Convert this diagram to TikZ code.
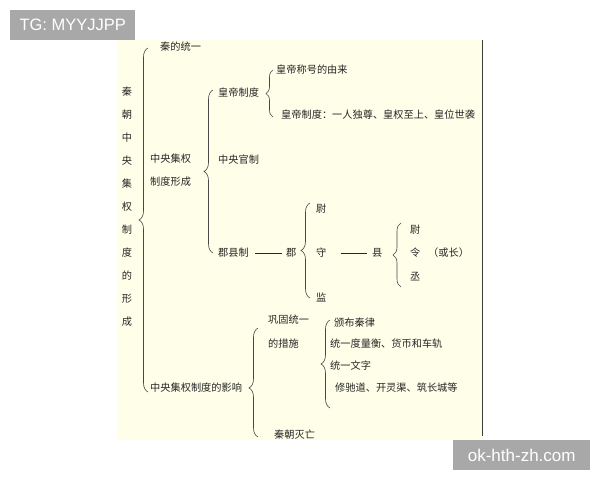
\documentclass[tikz,border=0pt]{standalone}
\usepackage{fontspec}
\newfontfamily\cjk{Noto Sans CJK SC}
\newfontfamily\wmfont{Liberation Sans}
\usetikzlibrary{decorations.pathreplacing}
\definecolor{paper}{RGB}{254,254,233}
\definecolor{ink}{RGB}{38,38,38}
\definecolor{tagbg}{RGB}{168,168,168}
\tikzstyle{item} = [anchor=west, inner sep=0pt, text=ink, font=\cjk\fontsize{10.2}{12}\selectfont]
\tikzstyle{twoline} = [item, align=left, font=\cjk\fontsize{10.2}{23.5}\selectfont]
\tikzstyle{brace} = [decorate, decoration={brace, amplitude=9pt}, draw=ink!85, line width=0.6pt]
\tikzstyle{link} = [draw=ink, line width=0.7pt]
\tikzstyle{tag} = [fill=tagbg, text=white, inner sep=0pt, minimum height=30pt, anchor=north west, align=center]

\begin{document}
\begin{tikzpicture}[x=1pt, y=-1pt, node distance = 44.5pt]
  \useasboundingbox (0,0) rectangle (600,480);
  \fill [paper] (118,40) rectangle (482,440);
  \draw [ink!90, line width=1pt] (482,40) -- (482,436);

  \node (title) [item, anchor=center, align=center, font=\cjk\fontsize{10.2}{23}\selectfont] at (127,207) {秦\\朝\\中\\央\\集\\权\\制\\度\\的\\形\\成};
  \node (tongyi) [item] at (160,47) {秦的统一};
  \node (xingcheng) [twoline] at (150,170) {中央集权\\制度形成};
  \node (yingxiang) [item] at (150,388) {中央集权制度的影响};

  \node (huangdi) [item] at (218,93) {皇帝制度};
  \node (guanzhi) [item] at (218,160) {中央官制};
  \node (junxian) [item] at (218,253) {郡县制};
  \node (jun) [item] at (286,253) {郡};

  \node (chenghao) [item] at (276,70) {皇帝称号的由来};
  \node (tedian) [item] at (281,115) {皇帝制度：一人独尊、皇权至上、皇位世袭};

  \node (shou) [item] at (316,253) {守};
  \node (wei) [item, above of = shou] {尉};
  \node (jian) [item, below of = shou] {监};
  \node (xian) [item] at (372,253) {县};
  \node (ling) [item] at (410,253) {令};
  \node (xwei) [item, above of = ling, node distance = 23.5pt] {尉};
  \node (cheng) [item, below of = ling, node distance = 23.5pt] {丞};
  \node (huozhang) [item] at (428,253) {（或长）};

  \node (cuoshi) [twoline] at (268,331.5) {巩固统一\\的措施};
  \node (qinlv) [item] at (334,323) {颁布秦律};
  \node (duliang) [item] at (330,344) {统一度量衡、货币和车轨};
  \node (wenzi) [item] at (330,366) {统一文字};
  \node (gongcheng) [item] at (335,388) {修驰道、开灵渠、筑长城等};
  \node (miewang) [item] at (274,435) {秦朝灭亡};

  \draw [brace] (148,392) -- (148,48);
  \draw [brace] (213,253) -- (213,90);
  \draw [brace, decoration={amplitude=7pt}] (273,117) -- (273,70);
  \draw [brace] (310,298) -- (310,203);
  \draw [brace, decoration={amplitude=8pt}] (401,287) -- (401,223);
  \draw [brace, decoration={aspect=0.45}] (258,437) -- (258,328);
  \draw [brace] (330,408) -- (330,320);

  \draw [link, shorten <= 6pt, shorten >= 4pt] (junxian) -- (jun);
  \draw [link, shorten <= 14pt, shorten >= 5pt] (shou) -- (xian);

  \node (tgtag) [tag, minimum width=125pt, font=\wmfont\fontsize{16.5}{18}\selectfont] at (10,10) {TG: MYYJJPP};
  \node (sitetag) [tag, minimum width=137pt, font=\wmfont\fontsize{17}{18}\selectfont] at (453,440) {ok-hth-zh.com};
\end{tikzpicture}
\end{document}
